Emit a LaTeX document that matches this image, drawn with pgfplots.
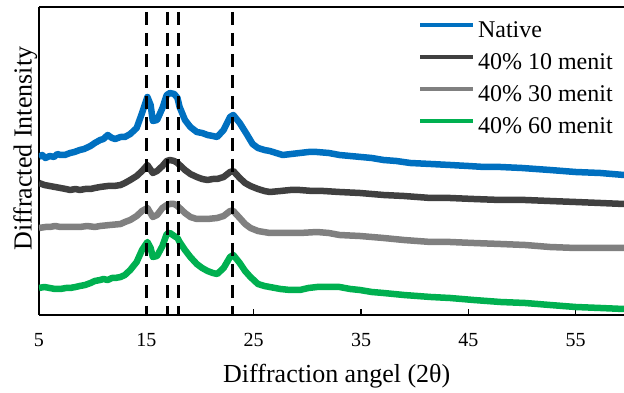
\documentclass[border=0pt]{standalone}
\usepackage{fontspec}
\setmainfont{Liberation Serif}
\usepackage{pgfplots}
\pgfplotsset{compat=1.18}
\definecolor{cblue}{HTML}{0070C0}
\definecolor{cdark}{HTML}{404040}
\definecolor{cgray}{HTML}{808080}
\definecolor{cgreen}{HTML}{00B050}
\begin{document}
\begin{tikzpicture}
\begin{axis}[
  at={(39pt,78pt)}, anchor=south west,
  scale only axis, width=585pt, height=308pt,
  xmin=5, xmax=59.5, ymin=78, ymax=386,
  axis x line*=box, axis y line*=left,
  axis line style={line width=2.5pt},
  xtick={5,15,25,35,45,55}, xtick pos=bottom,
  ytick=\empty,
  tick align=inside, major tick length=6pt,
  tick style={line width=1.5pt, black},
  /pgf/number format/assume math mode=true,
  xticklabel style={font=\fontsize{20}{20}\selectfont, anchor=base, yshift=-32pt},
  xlabel={Diffraction angel (2θ)},
  xlabel style={font=\fontsize{26}{26}\selectfont, at={(axis description cs:0.509,0)}, anchor=base, yshift=-68pt},
  ylabel={Diffracted Intensity},
  ylabel style={font=\fontsize{26}{26}\selectfont, at={(axis description cs:-0.0128,0.54)}, anchor=base},
  legend cell align=left,
  legend image code/.code={\draw[#1,line width=4pt] (0pt,7pt) -- (53pt,7pt);},
  legend style={at={(axis description cs:0.648,0.955)}, anchor=north west, draw=none, fill=none,
    inner sep=0pt, outer sep=0pt, row sep=9pt, column sep=3pt,
    font=\fontsize{24}{24}\selectfont,
    nodes={inner sep=0pt, text height=17pt, text depth=6pt}},
  every axis plot/.append style={line width=6.5pt, line join=round},
]
\addplot[cblue] table {
5.0 236
5.3 238
5.6 235
6.0 237
6.4 236
6.7 239
7.0 238
7.4 238
7.9 240
8.3 241
8.8 243
9.2 244
9.8 247
10.2 250
10.7 253
11.0 254
11.4 258
11.8 255
12.1 254
12.6 256
13.0 256
13.5 259
14.1 265
14.6 280
15.1 296
15.4 288
15.6 272
16.0 273
16.5 285
16.9 298
17.2 300
17.6 299
17.9 295
18.1 286
18.6 273
19.1 266
19.7 261
20.2 260
20.7 258
21.2 257
21.6 256
22.2 263
22.8 276
23.1 278
23.7 270
24.4 258
24.9 249
25.4 245
26.0 243
26.5 242
27.1 240
27.7 238
28.5 239
29.3 240
30.1 241
30.9 241
32.0 240
33.0 238
34.0 237
35.0 236
36.0 235
37.1 233
38.3 232
39.6 230
41.5 229
43.3 228
45.0 227
46.5 226
48.0 226
50.0 225
52.6 223
55.0 221
57.3 220
59.5 218
};
\addlegendentry{Native}
\addplot[cdark] table {
5.0 210
5.5 208
6.0 207
6.5 206
7.0 205
7.5 204
7.9 203
8.4 204
8.8 203
9.3 204
9.8 204
10.2 205
10.7 206
11.4 207
12.0 207
12.6 208
13.0 210
13.5 213
14.1 217
14.6 222
15.1 228
15.6 220
16.0 222
16.5 227
16.9 232
17.2 233
17.6 232
17.9 230
18.3 226
18.6 223
19.1 219
19.7 216
20.2 214
20.7 213
21.2 214
21.6 214
22.2 216
22.8 221
23.1 222
23.7 215
24.2 210
24.7 207
25.4 204
26.0 202
26.5 201
27.5 202
28.4 203
29.3 203
30.5 202
31.5 202
33.0 201
34.9 200
37.1 198
39.0 197
41.5 195
43.3 195
45.5 194
48.0 193
50.3 193
52.6 192
55.0 191
57.3 190
59.5 189
};
\addlegendentry{40\% 10 menit}
\addplot[cgray] table {
5.0 165
5.6 166
6.0 166
6.5 167
7.0 166
7.8 166
8.8 166
9.5 167
10.2 166
10.7 167
11.6 168
12.6 169
13.0 171
13.5 173
14.1 177
14.6 182
15.1 185
15.6 176
16.0 178
16.5 185
16.9 188
17.2 189
17.6 189
17.9 187
18.3 183
18.6 180
19.1 176
19.7 174
20.7 174
21.6 175
22.2 177
22.8 182
23.1 182
23.7 175
24.2 169
24.7 165
25.4 162
26.5 160
27.5 160
28.4 160
29.3 160
30.9 161
32.0 160
33.0 158
34.9 157
37.1 155
39.0 153
41.5 151
43.3 151
45.5 150
48.0 149
50.3 148
52.6 146
55.0 145
57.3 145
59.5 145
};
\addlegendentry{40\% 30 menit}
\addplot[cgreen] table {
5.0 105
5.5 106
6.0 105
6.5 104
7.0 104
7.5 105
7.9 105
8.4 106
8.8 107
9.3 108
9.8 110
10.2 112
10.7 113
11.0 114
11.4 113
11.8 115
12.1 115
12.6 116
13.0 118
13.5 123
14.1 131
14.6 143
15.1 151
15.4 145
15.6 136
16.0 137
16.5 147
16.9 159
17.2 160
17.6 157
17.9 155
18.1 151
18.6 143
19.1 136
19.7 129
20.2 125
20.7 122
21.2 120
21.6 119
22.2 125
22.8 136
23.1 138
23.7 130
24.2 122
24.7 116
25.4 109
26.0 107
26.5 106
27.5 104
28.4 103
29.3 103
30.1 105
30.9 106
32.0 106
33.0 106
34.0 104
34.9 103
36.0 101
37.1 100
39.0 98
41.5 96
43.3 95
45.5 93
48.0 91
50.3 90
52.6 88
55.0 86
57.3 85
59.5 84
};
\addlegendentry{40\% 60 menit}
\addplot[black, line width=3pt, dash pattern=on 13pt off 8pt, forget plot] coordinates {(15,381) (15,78)};
\addplot[black, line width=3pt, dash pattern=on 13pt off 8pt, forget plot] coordinates {(17,381) (17,78)};
\addplot[black, line width=3pt, dash pattern=on 13pt off 8pt, forget plot] coordinates {(18,381) (18,78)};
\addplot[black, line width=3pt, dash pattern=on 13pt off 8pt, forget plot] coordinates {(23,381) (23,78)};
\end{axis}
\pgfresetboundingbox
\useasboundingbox (0,0) rectangle (624pt,393pt);
\end{tikzpicture}
\end{document}
